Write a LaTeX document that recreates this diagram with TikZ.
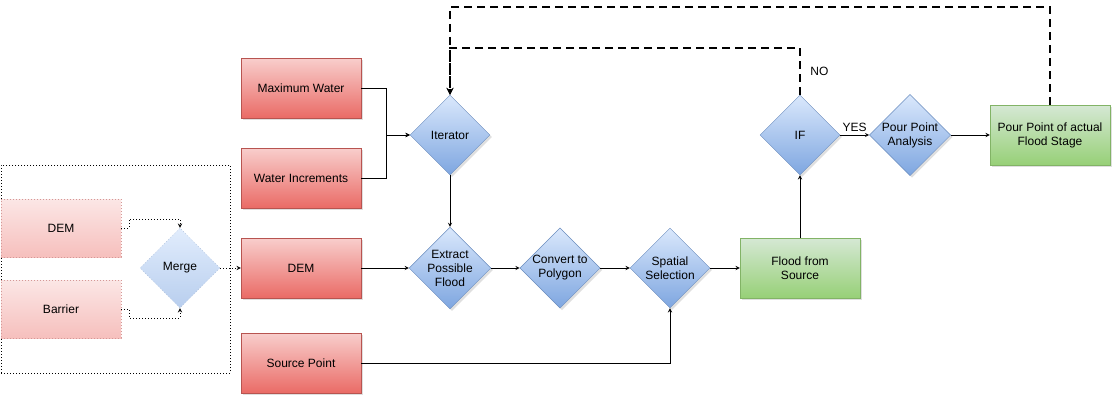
\documentclass[tikz,border=0pt]{standalone}
\usepackage{fontspec}
\setmainfont{Liberation Sans}
\usetikzlibrary{shapes.geometric,shadows}

\definecolor{redtop}{HTML}{F8CECC}
\definecolor{redbot}{HTML}{EA6B66}
\definecolor{redline}{HTML}{B85450}
\definecolor{bluetop}{HTML}{DAE8FC}
\definecolor{bluebot}{HTML}{7EA6E0}
\definecolor{blueline}{HTML}{6C8EBF}
\definecolor{greentop}{HTML}{D5E8D4}
\definecolor{greenbot}{HTML}{97D077}
\definecolor{greenline}{HTML}{82B366}

\begin{document}
\begin{tikzpicture}[x=1pt,y=-1pt,>=stealth,
  every node/.style={font=\fontsize{12}{14}\selectfont},
  boxshadow/.style={drop shadow={shadow xshift=2pt,shadow yshift=-2pt,opacity=0.25}},
  redbox/.style={rectangle,draw=redline,top color=redtop,bottom color=redbot,
    minimum width=120,minimum height=60,boxshadow},
  greenbox/.style={rectangle,draw=greenline,top color=greentop,bottom color=greenbot,
    minimum width=120,minimum height=60,align=center,boxshadow},
  fadedbox/.style={rectangle,draw=redline!60,dash pattern=on 1pt off 2pt,
    top color=redtop!50,bottom color=redtop!85!redbot,minimum width=120,minimum height=58},
  bluediamond/.style={diamond,aspect=1,draw=blueline,top color=bluetop,bottom color=bluebot,
    minimum width=80,minimum height=80,inner sep=0pt,align=center,boxshadow},
  fadeddiamond/.style={diamond,aspect=1,draw=blueline!60,dash pattern=on 1pt off 2pt,
    top color=bluetop!80,bottom color=bluebot!55,minimum width=80,minimum height=80,inner sep=0pt},
  groupbox/.style={rectangle,draw,dash pattern=on 1pt off 2pt,minimum width=229,minimum height=208},
  link/.style={line width=0.9pt},
  dotlink/.style={line width=0.9pt,dash pattern=on 1pt off 2pt},
  backlink/.style={line width=2pt,dash pattern=on 8pt off 5pt}]
\useasboundingbox (0,0) rectangle (1114,400);

\node[groupbox] (inputs) at (115.5,269) {};
\node[fadedbox] (demraw) at (61,228) {DEM};
\node[fadedbox] (barrier) at (61,309) {Barrier};
\node[fadeddiamond] (merge) at (180,268) {Merge};

\node[redbox] (maxwater) at (301,88) {Maximum Water};
\node[redbox] (waterinc) at (301,178) {Water Increments};
\node[redbox] (dem) at (301,268) {DEM};
\node[redbox] (source) at (301,363) {Source Point};

\node[bluediamond] (iterator) at (450,135) {Iterator};
\node[bluediamond] (extract) at (450,268) {Extract\\Possible\\Flood};
\node[bluediamond] (convert) at (560,268) {Convert to\\Polygon};
\node[bluediamond] (spatial) at (670,268) {Spatial\\Selection};
\node[greenbox] (flood) at (800,268) {Flood from\\Source};
\node[bluediamond] (ifnode) at (800,135) {IF};
\node[bluediamond] (pour) at (910,135) {Pour Point\\Analysis};
\node[greenbox] (stage) at (1050,135) {Pour Point of actual\\Flood Stage};

\draw[dotlink,->] (demraw.east) -- ++(8,0) -- ++(0,-9) -| (merge.north);
\draw[dotlink,->] (barrier.east) -- ++(8,0) -- ++(0,9) -| (merge.south);
\draw[dotlink,->] (merge.east) -- (dem.west);

\draw[link,->] (maxwater.east) -- ++(25,0) |- (iterator.west);
\draw[link,->] (waterinc.east) -- ++(25,0) |- (iterator.west);
\draw[link,->] (iterator.south) -- (extract.north);
\draw[link,->] (dem.east) -- (extract.west);
\draw[link,->] (extract.east) -- (convert.west);
\draw[link,->] (convert.east) -- (spatial.west);
\draw[link,->] (spatial.east) -- (flood.west);
\draw[link,->] (source.east) -| (spatial.south);
\draw[link,->] (flood.north) -- (ifnode.south);
\draw[link,->] (ifnode.east) -- node[above] {YES} (pour.west);
\draw[link,->] (pour.east) -- (stage.west);

\draw[backlink,->] (ifnode.north) -- node[right=6pt] {NO} ++(0,-47) -| (iterator.north);
\draw[backlink,->] (stage.north) -- ++(0,-98) -| (iterator.north);
\end{tikzpicture}
\end{document}
